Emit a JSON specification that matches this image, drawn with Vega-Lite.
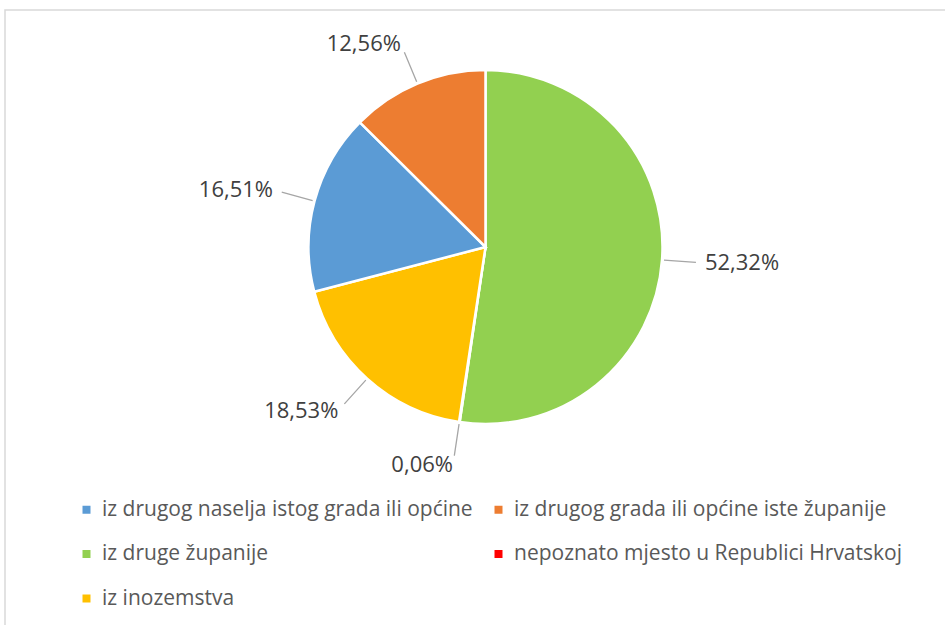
{
  "$schema": "https://vega.github.io/schema/vega-lite/v6.json",
  "width": 945,
  "height": 625,
  "autosize": {"type": "fit", "contains": "padding"},
  "padding": {"left": 5, "top": 10, "right": -4, "bottom": -4},
  "background": "white",
  "view": {"stroke": "#d9d9d9", "strokeWidth": 1.5, "fill": "white"},
  "config": {
    "view": {"stroke": "#d9d9d9", "strokeWidth": 1.5},
    "font": "Open Sans"
  },
  "data": {
    "values": [
      {"kategorija": "iz druge županije", "udio": 52.32, "rb": 1},
      {"kategorija": "nepoznato mjesto u Republici Hrvatskoj", "udio": 0.06, "rb": 2},
      {"kategorija": "iz inozemstva", "udio": 18.53, "rb": 3},
      {"kategorija": "iz drugog naselja istog grada ili općine", "udio": 16.51, "rb": 4},
      {"kategorija": "iz drugog grada ili općine iste županije", "udio": 12.56, "rb": 5}
    ]
  },
  "transform": [
    {"window": [{"op": "sum", "field": "udio", "as": "kraj"}], "sort": [{"field": "rb"}], "frame": [null, 0]},
    {"calculate": "datum.kraj - datum.udio", "as": "pocetak"},
    {"calculate": "datum.kraj - datum.udio / 2", "as": "sredina"},
    {"calculate": "replace(format(datum.udio, '.2f'), '.', ',') + '%'", "as": "oznaka"}
  ],
  "layer": [
    {
      "mark": {"type": "arc", "outerRadius": 177, "stroke": "white", "strokeWidth": 2.5, "x": {"expr": "480.5"}, "y": {"expr": "237"}},
      "encoding": {
        "theta": {"field": "pocetak", "type": "quantitative", "stack": null, "scale": {"domain": [0, 99.98]}},
        "theta2": {"field": "kraj"},
        "color": {
          "field": "kategorija",
          "type": "nominal",
          "scale": {
            "domain": [
              "iz drugog naselja istog grada ili općine",
              "iz drugog grada ili općine iste županije",
              "iz druge županije",
              "nepoznato mjesto u Republici Hrvatskoj",
              "iz inozemstva"
            ],
            "range": ["#5b9bd5", "#ed7d31", "#92d050", "#ff0000", "#ffc000"]
          },
          "legend": {
            "orient": "none",
            "direction": "horizontal",
            "legendX": 71,
            "legendY": 489,
            "columns": 2,
            "title": null,
            "padding": 0,
            "symbolType": "square",
            "symbolSize": 64,
            "symbolStrokeWidth": 0,
            "labelFontSize": 21,
            "labelColor": "#595959",
            "labelLimit": 600,
            "labelOffset": 5,
            "columnPadding": 15,
            "rowPadding": 22.5
          }
        }
      }
    },
    {
      "mark": {"type": "arc", "innerRadius": 179, "outerRadius": 211, "filled": false, "stroke": "#a6a6a6", "strokeWidth": 1.3, "x": {"expr": "480.5"}, "y": {"expr": "237"}},
      "encoding": {
        "theta": {"field": "sredina", "type": "quantitative", "stack": null},
        "theta2": {"field": "sredina"}
      }
    },
    {
      "transform": [{"filter": "datum.sredina < 50"}],
      "mark": {"type": "text", "radius": 220, "align": "left", "fontSize": 22, "fill": "#404040", "x": {"expr": "480.5"}, "y": {"expr": "237"}},
      "encoding": {
        "theta": {"field": "sredina", "type": "quantitative", "stack": null},
        "text": {"field": "oznaka"}
      }
    },
    {
      "transform": [{"filter": "datum.sredina >= 50"}],
      "mark": {"type": "text", "radius": 220, "align": "right", "fontSize": 22, "fill": "#404040", "x": {"expr": "480.5"}, "y": {"expr": "237"}},
      "encoding": {
        "theta": {"field": "sredina", "type": "quantitative", "stack": null},
        "text": {"field": "oznaka"}
      }
    }
  ]
}
